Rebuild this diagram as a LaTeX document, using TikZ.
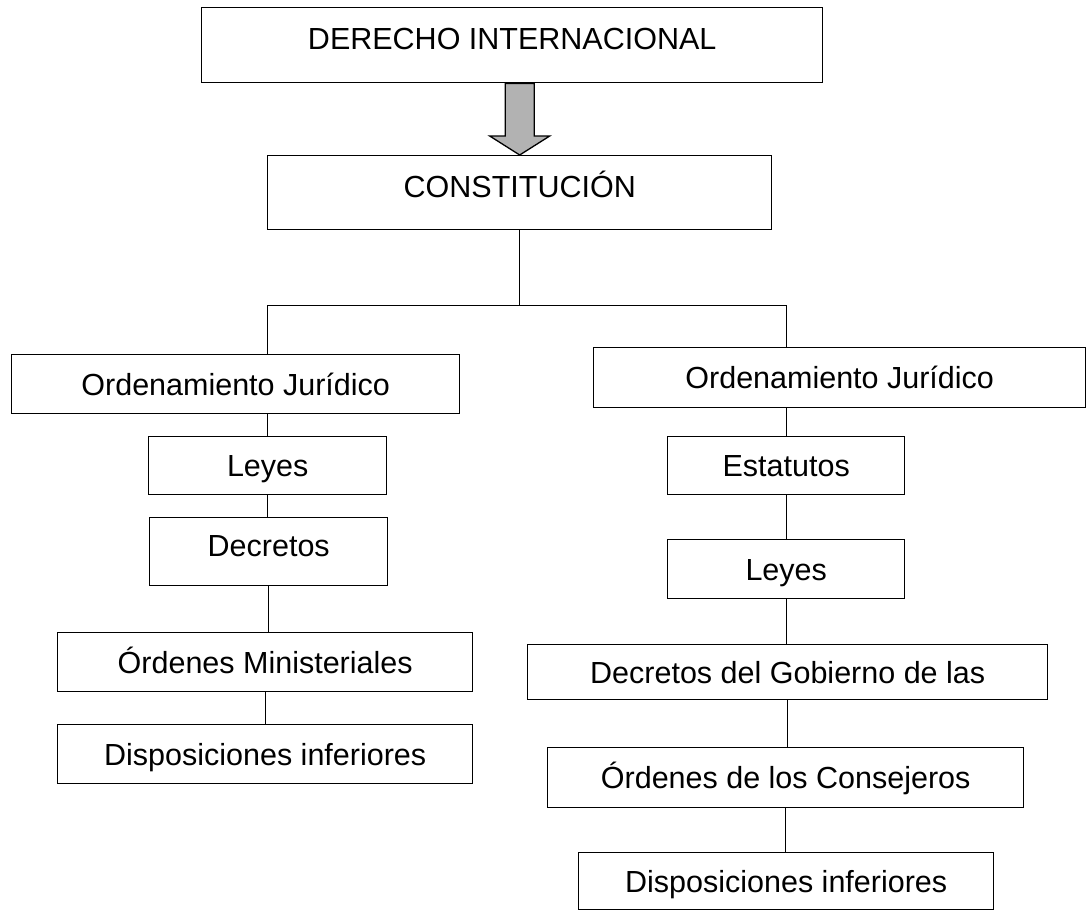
\documentclass[tikz,border=0pt]{standalone}
\usepackage{fontspec}
\setmainfont{Liberation Sans}
\usetikzlibrary{positioning,calc}

\begin{document}
\begin{tikzpicture}[x=1pt,y=-1pt]
    \tikzset{
      caja/.style = { draw, line width = 1.4pt, anchor = north west, inner sep = 0pt,
        font = \fontsize{30.5}{36}\selectfont, text height = 21.8pt, text depth = 0pt },
      enlace/.style = { line width = 1.3pt },
      flecha/.style = { draw, line width = 1.3pt, fill = gray!60, line join = miter },
    }
    \useasboundingbox (0,0) rectangle (1087,910);

    \node[caja, minimum width=621pt, minimum height=75pt, text depth=14pt] (der) at (201,7) {DERECHO INTERNACIONAL};
    \node[caja, minimum width=504pt, minimum height=74pt, text depth=12pt] (con) at (267,155) {CONSTITUCIÓN};

    % rama izquierda
    \node[caja, minimum width=448pt, minimum height=59pt] (ord izq) at (11,354) {Ordenamiento Jurídico};
    \node[caja, minimum width=238pt, minimum height=58pt] (leyes izq) at (148,436) {Leyes};
    \node[caja, minimum width=238pt, minimum height=68pt, text depth=12pt] (decretos izq) at (149,517) {Decretos};
    \node[caja, minimum width=415pt, minimum height=59pt] (ordenes izq) at (57,632) {Órdenes Ministeriales};
    \node[caja, minimum width=415pt, minimum height=59pt] (disp izq) at (57,724) {Disposiciones inferiores};

    % rama derecha
    \node[caja, minimum width=492pt, minimum height=60pt] (ord der) at (593,347) {Ordenamiento Jurídico};
    \node[caja, minimum width=237pt, minimum height=58pt] (estatutos der) at (667,436) {Estatutos};
    \node[caja, minimum width=237pt, minimum height=59pt] (leyes der) at (667,539) {Leyes};
    \node[caja, minimum width=520pt, minimum height=55pt] (decretos der) at (527,644) {Decretos del Gobierno de las};
    \node[caja, minimum width=476pt, minimum height=60pt] (ordenes der) at (547,747) {Órdenes de los Consejeros};
    \node[caja, minimum width=415pt, minimum height=57pt] (disp der) at (578,852) {Disposiciones inferiores};

    % flecha gruesa
    \coordinate (flecha top) at (con.north |- der.south);
    \draw[flecha] ($(flecha top)+(-14.5,0)$) -- ($(con.north)+(-14.5,-19)$) -- ($(con.north)+(-30,-19)$)
        -- (con.north) -- ($(con.north)+(30,-19)$) -- ($(con.north)+(14.5,-19)$)
        -- ($(flecha top)+(14.5,0)$) -- cycle;

    % reparto
    \coordinate (bus) at ($(con.south)+(0,75)$);
    \draw[enlace] (con.south) -- (bus);
    \draw[enlace] (leyes izq.north |- bus) -- (estatutos der.north |- bus);
    \draw[enlace] (leyes izq.north |- bus) -- (leyes izq.north |- ord izq.north);
    \draw[enlace] (estatutos der.north |- bus) -- (estatutos der.north |- ord der.north);
    \draw[enlace] (leyes izq.north |- ord izq.south) -- (leyes izq.north);
    \draw[enlace] (estatutos der.north |- ord der.south) -- (estatutos der.north);

    \foreach \a/\b in {leyes izq/decretos izq, decretos izq/ordenes izq, ordenes izq/disp izq,
                       estatutos der/leyes der, leyes der/decretos der, decretos der/ordenes der,
                       ordenes der/disp der}
        \draw[enlace] (\a.south) -- (\a.south |- \b.north);
\end{tikzpicture}
\end{document}
